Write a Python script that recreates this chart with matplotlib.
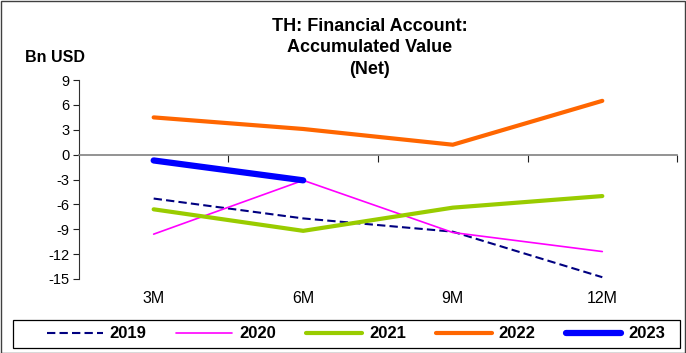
import numpy as np
import matplotlib
matplotlib.use('Agg')
import matplotlib.pyplot as plt
from matplotlib.patches import Rectangle
from matplotlib.transforms import blended_transform_factory
from matplotlib.font_manager import FontProperties

plt.rcParams['font.family'] = ['Liberation Sans', 'DejaVu Sans']

categories = ['3M', '6M', '9M', '12M']
years = ['2019', '2020', '2021', '2022', '2023']
values = {
    '2019': [-5.3, -7.7, -9.3, -14.8],
    '2020': [-9.6, -3.1, -9.4, -11.7],
    '2021': [-6.6, -9.2, -6.4, -5.0],
    '2022': [4.5, 3.1, 1.2, 6.5],
    '2023': [-0.7, -3.1],
}
colors = ['#000080', '#FF00FF', '#99CC00', '#FF6600', '#0000FF']
widths = [1.5, 1.2, 3.0, 3.0, 4.5]
yticks = np.arange(-15, 10, 3)

W, H = 686, 353
fig = plt.figure(figsize=(W / 100, H / 100), dpi=100)
ax = fig.add_axes([0.115, 0.21, 0.872, 0.563])

xpos = np.arange(len(categories))
for yr, c, lw in zip(years, colors, widths):
    v = values[yr]
    if yr == '2019':
        ax.plot(xpos[:len(v)], v, color=c, lw=lw, ls='--', dashes=(4, 2), label=yr)
    else:
        ax.plot(xpos[:len(v)], v, color=c, lw=lw, label=yr, solid_capstyle='round')

ax.set_xlim(-0.5, 3.5)
ax.set_ylim(-15, 9)
ax.set_yticks(yticks)
ax.set_yticklabels([str(t) for t in yticks], fontsize=10.5)
ax.tick_params(axis='y', direction='out', length=4, width=0.8, pad=3, color='#202020')

# category axis sits on the zero line, labels stay at the bottom
ax.spines['bottom'].set_position(('data', 0))
ax.spines['bottom'].set_color('#808080')
ax.spines['bottom'].set_linewidth(1.2)
ax.spines['left'].set_color('#303030')
ax.spines['top'].set_visible(False)
ax.spines['right'].set_visible(False)
ax.set_xticks([0.5, 1.5, 2.5, 3.5])
ax.set_xticklabels([])
ax.tick_params(axis='x', direction='out', length=5, width=0.8, color='#202020')
lab_tr = blended_transform_factory(ax.transData, fig.transFigure)
for x, lab in zip(xpos, categories):
    ax.text(x, 1 - 303 / H, lab, ha='center', va='baseline', fontsize=11.5,
            transform=lab_tr, clip_on=False)

bold_title = FontProperties(family=['Liberation Sans', 'DejaVu Sans'], weight='bold', size=13)
bold_unit = FontProperties(family=['Liberation Sans', 'DejaVu Sans'], weight='bold', size=11.5)
title_lines = ['TH: Financial Account:', 'Accumulated Value', '(Net)']
for line, base in zip(title_lines, [31, 52.5, 74]):
    fig.text(370 / W, 1 - base / H, line, ha='center', va='baseline',
             fontproperties=bold_title)
fig.text(25 / W, 1 - 62 / H, 'Bn USD', ha='left', va='baseline',
         fontproperties=bold_unit)

leg = fig.legend(loc='center', bbox_to_anchor=(356 / W, 1 - 334 / H), ncol=5,
                 frameon=False, prop={'weight': 'bold', 'size': 12},
                 handlelength=3.35, handletextpad=0.42, columnspacing=1.8,
                 borderpad=0)
fig.patches.append(Rectangle((13 / W, 1 - 348 / H), 667 / W, 28 / H,
                             transform=fig.transFigure, fill=False,
                             edgecolor='black', lw=0.9))

fig.patches.append(Rectangle((0.001, 0.001), 0.997, 0.997, transform=fig.transFigure,
                             fill=False, edgecolor='#404040', lw=1))

fig.savefig('out.png', dpi=100)
